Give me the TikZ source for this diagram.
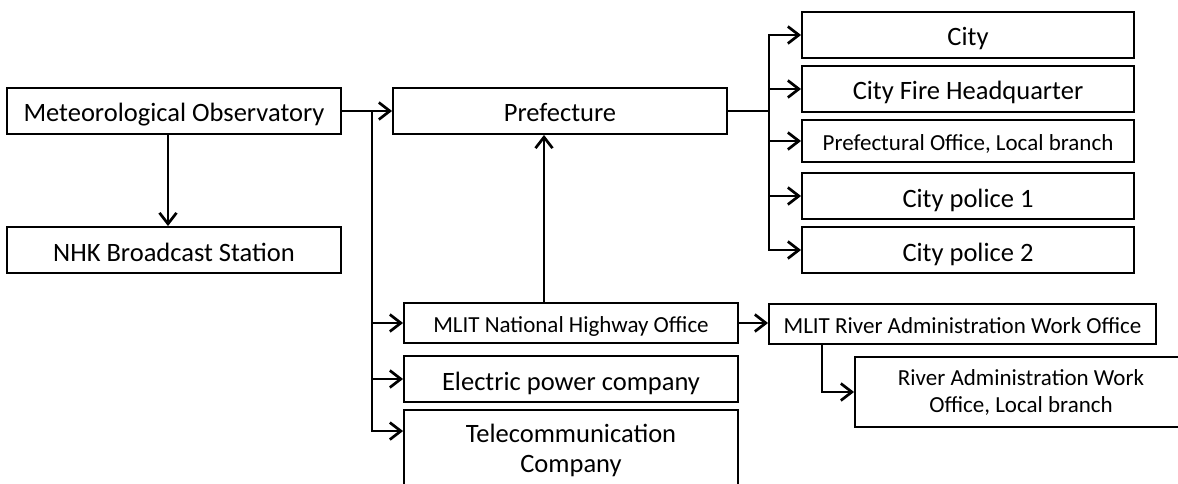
\documentclass[tikz,border=0pt]{standalone}
\usepackage{fontspec}
\setmainfont{Carlito}
\usetikzlibrary{positioning, arrows.meta}
\tikzset{
	org/.style={draw, rectangle, line width=1.9pt, inner sep=2pt, minimum width=334pt, minimum height=46pt, align=center, text height=28pt, text depth=6pt, font=\fontsize{26.5}{30}\selectfont},
	orgmid/.style={org, minimum height=40pt, text height=24pt, text depth=6pt, font=\fontsize{23}{27}\selectfont},
	orgsmall/.style={org, minimum height=42pt, text height=24pt, text depth=6pt, font=\fontsize{23}{27}\selectfont},
	% two-line boxes keep their natural size
	twolines/.style={text height=, text depth=},
}

\begin{document}
\begin{tikzpicture}[x=1pt, y=-1pt]
		\path[use as bounding box, clip] (0,0) rectangle (1178,484);
		
		\node (obs) [org] at (174,111) {Meteorological Observatory};
		\node (nhk) [org] at (174,250) {NHK Broadcast Station};
		\node (pref) [org] at (560,111) {Prefecture};
		
		\node (city) [org, minimum width=332pt] at (968,35) {City};
		\node (fire) [org, minimum width=332pt] at (968,89) {City Fire Headquarter};
		\node (poffice) [orgsmall, minimum width=332pt] at (968,141) {Prefectural Office, Local branch};
		\node (police1) [org, minimum width=332pt] at (968,196) {City police 1};
		\node (police2) [org, minimum width=332pt] at (968,250) {City police 2};
		
		\node (nho) [orgmid] at (571,323) {MLIT National Highway Office};
		\node (elec) [org] at (571,379) {Electric power company};
		\node (tele) [org, twolines, minimum height=80pt] at (571,450) {Telecommunication\\Company};
		
		\node (rawo) [orgmid, minimum width=387pt] at (962.5,324) {MLIT River Administration Work Office};
		\node (rawlb) [orgmid, twolines, minimum width=332pt, minimum height=70pt] at (1021,392) {River Administration Work\\Office, Local branch};
		
		\coordinate (ltrunk) at (372,111);
		\coordinate (rtrunk) at (769,111);
		
		\begin{scope}[line width=1.9pt, black, -{Straight Barb[length=11pt, width=17pt, line width=2.7pt]}]
			\draw (obs.east) -- (pref.west);
			\draw ([xshift=-6pt]obs.south) -- ([xshift=-6pt]nhk.north);
			\draw (ltrunk) |- (nho.west);
			\draw (ltrunk) |- (elec.west);
			\draw (ltrunk) |- ([yshift=-22pt]tele.north west);
			\draw ([xshift=-27pt]nho.north) -- ([xshift=-27pt]nho.north |- pref.south);
			\draw [-] (pref.east) -- (rtrunk);
			\draw (rtrunk) |- (city.west);
			\draw (rtrunk) |- (fire.west);
			\draw (rtrunk) |- (poffice.west);
			\draw (rtrunk) |- (police1.west);
			\draw (rtrunk) |- (police2.west);
			\draw (nho.east) -- (rawo.west |- nho.east);
			\draw ([xshift=54pt]rawo.south west) |- (rawlb.west);
		\end{scope}
	\end{tikzpicture}
\end{document}
